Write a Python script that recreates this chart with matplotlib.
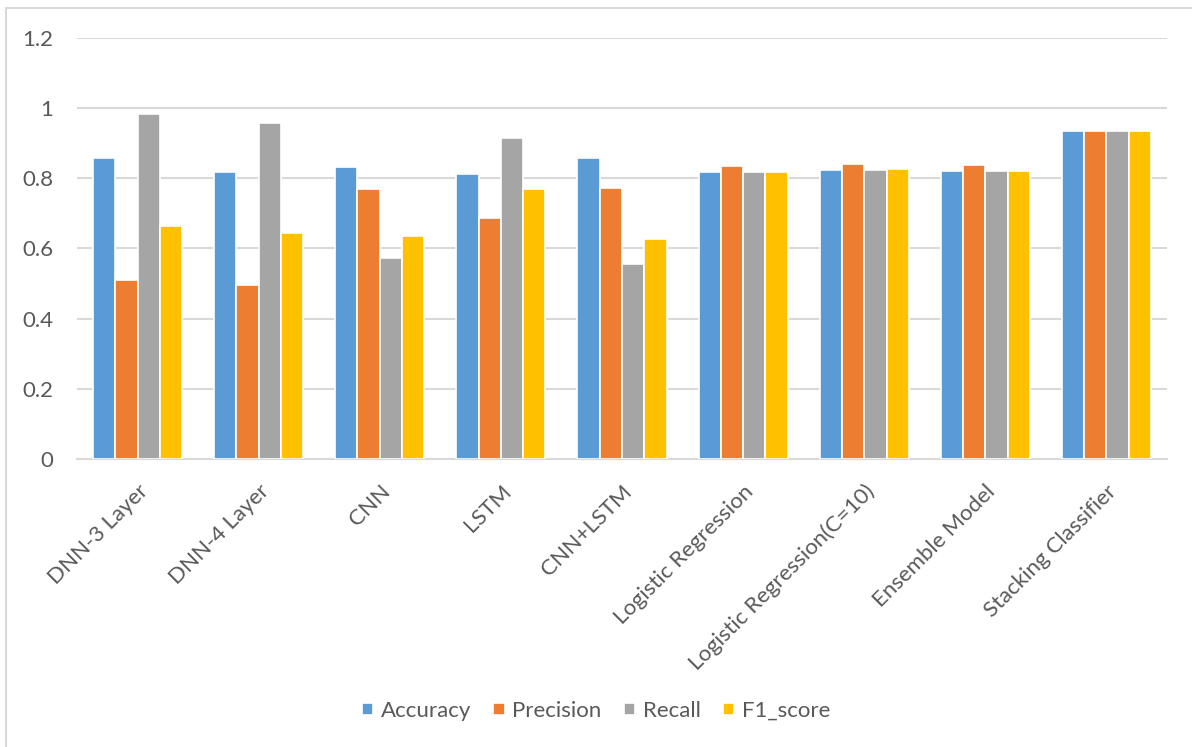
import matplotlib.pyplot as plt
from matplotlib.patches import Rectangle
import numpy as np

models = ['DNN-3 Layer', 'DNN-4 Layer', 'CNN', 'LSTM', 'CNN+LSTM',
          'Logistic Regression', 'Logistic Regression(C=10)',
          'Ensemble Model', 'Stacking Classifier']
accuracy = [0.857, 0.817, 0.831, 0.813, 0.857, 0.817, 0.824, 0.821, 0.934]
precision = [0.509, 0.495, 0.769, 0.686, 0.773, 0.835, 0.842, 0.839, 0.934]
recall = [0.982, 0.959, 0.572, 0.915, 0.557, 0.817, 0.824, 0.821, 0.934]
f1_score = [0.663, 0.645, 0.637, 0.769, 0.626, 0.817, 0.828, 0.821, 0.934]

series = [('Accuracy', accuracy, '#5b9bd5'),
          ('Precision', precision, '#ed7d31'),
          ('Recall', recall, '#a5a5a5'),
          ('F1_score', f1_score, '#ffc000')]

plt.rcParams['font.family'] = ['Lato', 'DejaVu Sans']
text_color = '#595959'
fsize = 16

fig = plt.figure(figsize=(11.92, 7.47), dpi=100)
ax = fig.add_axes([77 / 1192, 1 - 459 / 747, 1090 / 1192, 421 / 747])

x = np.arange(len(models))
pitch = 0.184
for i, (name, vals, color) in enumerate(series):
    offset = (i - 1.5) * pitch
    ax.bar(x + offset, vals, width=pitch, color=color, edgecolor='white',
           linewidth=1.2, label=name, zorder=3)

ax.set_xlim(-0.5, len(models) - 0.5)
ax.set_ylim(0, 1.2)
ax.set_yticks([0, 0.2, 0.4, 0.6, 0.8, 1.0, 1.2])
ax.set_yticklabels(['0', '0.2', '0.4', '0.6', '0.8', '1', '1.2'])
ax.yaxis.grid(True, color='#d9d9d9', linewidth=1.5, zorder=0)
ax.set_axisbelow(True)
for side in ['top', 'right', 'left']:
    ax.spines[side].set_visible(False)
ax.spines['bottom'].set_color('#d9d9d9')
ax.spines['bottom'].set_linewidth(1.5)
ax.tick_params(axis='both', length=0, colors=text_color, labelsize=fsize)
ax.tick_params(axis='y', pad=17)

ax.set_xticks(x)
ax.set_xticklabels(models, rotation=45, ha='right', va='top',
                   rotation_mode='anchor', color=text_color, fontsize=fsize)
ax.tick_params(axis='x', pad=16)

leg = fig.legend(loc='center', bbox_to_anchor=(0.5, 1 - 711 / 747), ncol=4,
                 frameon=False, fontsize=fsize, handlelength=0.5, handleheight=0.5,
                 handletextpad=0.35, columnspacing=1.0)
for t in leg.get_texts():
    t.set_color(text_color)

# chart frame, cut off at the right and bottom edges
fig.patches.append(Rectangle((6 / 1192, -0.1), 1.2, 1.1 - 8 / 747,
                             transform=fig.transFigure, fill=False,
                             edgecolor='#d9d9d9', linewidth=1.5))

fig.savefig('out.png', dpi=100, facecolor='white')
